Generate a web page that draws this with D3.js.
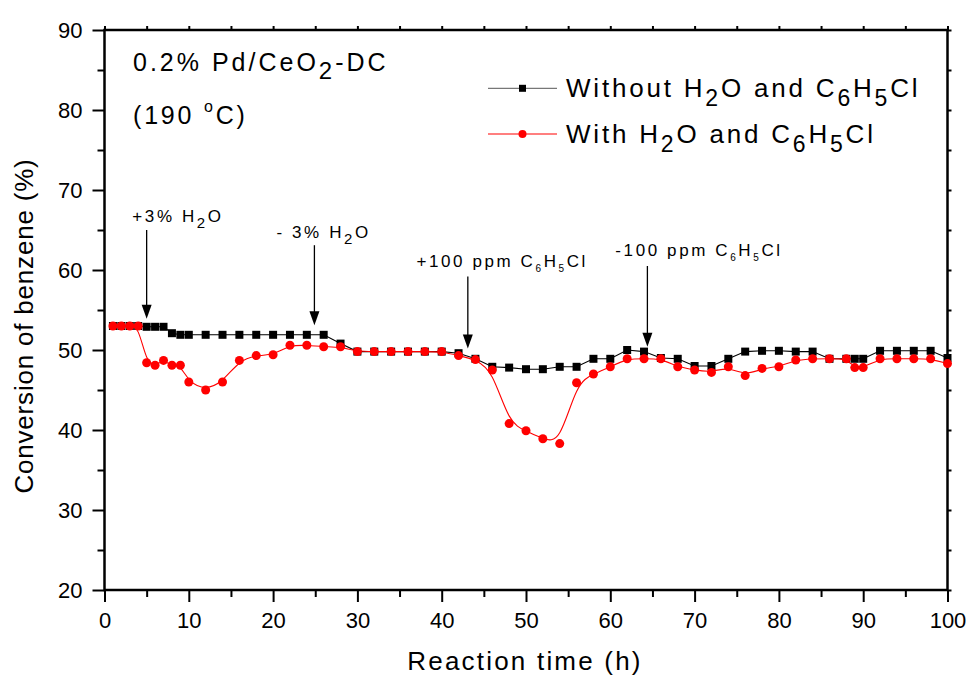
<!DOCTYPE html>
<html><head><meta charset="utf-8">
<script src="https://cdn.jsdelivr.net/npm/d3@7/dist/d3.min.js"></script>
<style>
body{margin:0;background:#fff}
text{font-family:"Liberation Sans",Arial,sans-serif;fill:#000}
</style>
</head><body>
<svg id="chart" width="968" height="675"></svg>
<script>
// ---- data ----
const times = [1,2,3,4,5,6,7,8,9,10,12,14,16,18,20,22,24,26,28,30,32,34,36,38,40,42,44,46,48,50,52,54,56,58,60,62,64,66,68,70,72,74,76,78,80,82,84,86,88,89,90,92,94,96,98,100];
const withoutVals = [53,53,53,53,52.9,52.9,52.9,52.1,51.9,51.9,51.9,51.9,51.9,51.9,51.9,51.9,51.9,51.9,50.8,49.8,49.8,49.8,49.8,49.8,49.8,49.6,48.9,47.9,47.8,47.6,47.6,47.9,47.9,48.9,48.9,50,49.8,49,48.9,48,48,48.9,49.8,49.9,49.9,49.8,49.8,48.9,48.9,48.9,48.9,49.9,49.9,49.9,49.9,49.0];
const withVals = [53,53,53,53,48.4,48.1,48.7,48.1,48.1,46.0,45.0,46.0,48.7,49.3,49.4,50.6,50.6,50.4,50.4,49.8,49.8,49.8,49.8,49.8,49.8,49.3,48.8,47.5,40.8,39.9,38.9,38.3,45.9,47.0,47.9,48.9,48.9,48.9,47.9,47.5,47.2,47.9,46.8,47.7,47.9,48.75,48.9,48.9,48.9,47.8,47.8,48.9,48.9,48.9,48.9,48.3];
const xTicks = [0,10,20,30,40,50,60,70,80,90,100];
const xMinorTicks = [5,15,25,35,45,55,65,75,85,95];
const yTicks = [20,30,40,50,60,70,80,90];
const yMinorTicks = [25,35,45,55,65,75,85];
const legendLabels = ["Without H_{2}O and C_{6}H_{5}Cl","With H_{2}O and C_{6}H_{5}Cl"];
const annLabels = ["+3% H_{2}O","- 3% H_{2}O","+100 ppm C_{6}H_{5}Cl","-100 ppm C_{6}H_{5}Cl"];
const annTime = [5.0, 24.9, 43.1, 64.4];
const annFrom = [65.0, 63.1, 59.2, 60.5];
const annTo = [53.9, 53.1, 50.2, 50.4];
const annLabelTime = [3.3, 20.4, 37.0, 60.6];
const annLabelVal = [66.0, 64.0, 60.4, 61.75];
const titleLine1 = "0.2% Pd/CeO_{2}-DC";
const xTitle = "Reaction time (h)";
const yTitle = "Conversion of benzene (%)";

// ---- drawing ----
const svg = d3.select("#chart");
const x = d3.scaleLinear().domain([0,100]).range([104.5,947.5]);
const y = d3.scaleLinear().domain([20,90]).range([590,30]);

function richText(sel, str, subScale, subShift){
  const parts = str.split(/(_\{[^}]*\})/).filter(s=>s.length);
  let pending = 0;
  parts.forEach(p=>{
    if(p.startsWith("_{")){
      sel.append("tspan").attr("dy", subShift).attr("font-size", subScale).text(p.slice(2,-1));
      pending = subShift;
    } else {
      const t = sel.append("tspan").text(p);
      if(pending){ t.attr("dy", -pending); pending = 0; }
    }
  });
}

// axes
const gx = svg.append("g").attr("transform","translate(0,590)")
  .call(d3.axisBottom(x).tickValues(xTicks).tickSize(12).tickPadding(10).tickFormat(d3.format("d")));
const gxm = svg.append("g").attr("transform","translate(0,590)")
  .call(d3.axisBottom(x).tickValues(xMinorTicks).tickSize(7).tickFormat(""));
const gy = svg.append("g").attr("transform","translate(104.5,0)")
  .call(d3.axisLeft(y).tickValues(yTicks).tickSize(12).tickPadding(10).tickFormat(d3.format("d")));
const gym = svg.append("g").attr("transform","translate(104.5,0)")
  .call(d3.axisLeft(y).tickValues(yMinorTicks).tickSize(7).tickFormat(""));
const gt = svg.append("g").attr("transform","translate(0,30)")
  .call(d3.axisTop(x).tickValues(xTicks.concat(xMinorTicks)).tickSize(4).tickFormat(""));
const gr = svg.append("g").attr("transform","translate(947.5,0)")
  .call(d3.axisRight(y).tickValues(yTicks.concat(yMinorTicks)).tickSize(4).tickFormat(""));
[gx,gxm,gy,gym,gt,gr].forEach(g=>{
  g.select(".domain").remove();
  g.selectAll(".tick line").attr("stroke","#000").attr("stroke-width",2);
  g.selectAll(".tick text").attr("font-size",22).attr("font-family","Liberation Sans, Arial, sans-serif").attr("fill","#000");
});

svg.append("rect").attr("x",x(0)).attr("y",y(90)).attr("width",x(100)-x(0)).attr("height",y(20)-y(90))
  .attr("fill","none").attr("stroke","#000").attr("stroke-width",2.5);

// axis titles
svg.append("text").attr("x",525).attr("y",670).attr("text-anchor","middle")
  .attr("font-size",26).attr("letter-spacing",2.2).text(xTitle);
svg.append("text").attr("transform","translate(33,326) rotate(-90)").attr("text-anchor","middle")
  .attr("font-size",26).attr("letter-spacing",0.8).text(yTitle);

// lines
const data1 = times.map((t,i)=>({t, v:withoutVals[i]}));
const data2 = times.map((t,i)=>({t, v:withVals[i]}));
svg.append("path").datum(data1).attr("fill","none").attr("stroke","#000").attr("stroke-width",1.1)
  .attr("d", d3.line().x(d=>x(d.t)).y(d=>y(d.v)).curve(d3.curveLinear));
svg.append("g").selectAll("rect").data(data1).join("rect")
  .attr("x",d=>x(d.t)-4).attr("y",d=>y(d.v)-4).attr("width",8).attr("height",8).attr("fill","#000");
svg.append("path").datum(data2).attr("fill","none").attr("stroke","#ff0000").attr("stroke-width",1.1)
  .attr("d", d3.line().x(d=>x(d.t)).y(d=>y(d.v)).curve(d3.curveBasis));
svg.append("g").selectAll("circle").data(data2).join("circle")
  .attr("cx",d=>x(d.t)).attr("cy",d=>y(d.v)).attr("r",4.5).attr("fill","#ff0000");

// annotations
annLabels.forEach((lab,i)=>{
  const ax = x(annTime[i]), y0 = y(annFrom[i]), y1 = y(annTo[i]);
  svg.append("line").attr("x1",ax).attr("x2",ax).attr("y1",y0).attr("y2",y1-12)
    .attr("stroke","#000").attr("stroke-width",1.3);
  svg.append("path").attr("d",`M${ax-5},${y1-14}L${ax+5},${y1-14}L${ax},${y1}Z`).attr("fill","#000");
  const isBig = i<2;
  const t = svg.append("text").attr("x",x(annLabelTime[i])).attr("y",y(annLabelVal[i]))
    .attr("font-size",17).attr("letter-spacing",2.6);
  richText(t, lab, isBig?15:10, isBig?6:5);
});

// top-left note
const n1 = svg.append("text").attr("x",133).attr("y",70.7).attr("font-size",25).attr("letter-spacing",3);
richText(n1, titleLine1, 24, 8);
const n2 = svg.append("text").attr("x",133).attr("y",124).attr("font-size",25).attr("letter-spacing",2.8);
n2.append("tspan").text("(190 ");
n2.append("tspan").attr("font-size",16).attr("dy",-12).text("o");
n2.append("tspan").attr("dy",12).text("C)");

// legend
const legRows = [{y:88.3, color:"#000", lineColor:"#777", shape:"square"},{y:134, color:"#ff0000", lineColor:"#ff0000", shape:"circle"}];
legendLabels.forEach((lab,i)=>{
  const r = legRows[i];
  svg.append("line").attr("x1",488).attr("x2",557).attr("y1",r.y).attr("y2",r.y).attr("stroke",r.lineColor).attr("stroke-width",1.2);
  if(r.shape==="square") svg.append("rect").attr("x",522.5-3.5).attr("y",r.y-3.5).attr("width",7).attr("height",7).attr("fill",r.color);
  else svg.append("circle").attr("cx",522.5).attr("cy",r.y).attr("r",4).attr("fill",r.color);
  const t = svg.append("text").attr("x",566).attr("y",r.y+8.5).attr("font-size",26).attr("letter-spacing",2.8);
  richText(t, lab, 23, 9);
});
</script>
</body></html>
